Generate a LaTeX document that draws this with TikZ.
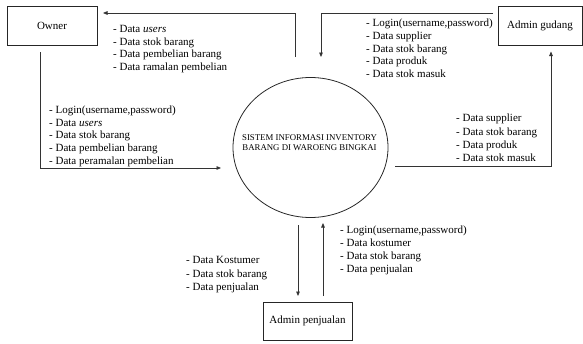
\documentclass[tikz,border=0pt]{standalone}
\usepackage{fontspec}
\setmainfont{Liberation Serif}
\usetikzlibrary{arrows.meta,shapes.geometric}

\begin{document}
\begin{tikzpicture}[x=1pt,y=-1pt,
  entity/.style={draw=black!85,line width=0.8pt,inner sep=0pt,
    font=\fontsize{11}{13}\selectfont},
  process/.style={draw=black!85,line width=0.8pt,ellipse,inner sep=0pt},
  flow/.style={draw=black!80,line width=0.8pt,
    -{Triangle[length=4.5pt,width=3.6pt]}},
  datalist/.style={anchor=north west,inner sep=0pt,align=left,
    font=\fontsize{11}{12.7}\selectfont},
  datalistwide/.style={datalist,font=\fontsize{11}{13.2}\selectfont}]

  % page frame
  \useasboundingbox (0,0) rectangle (583,343);

  % external entities
  \node[entity,minimum width=90pt,minimum height=39pt] (owner) at (52,25.5) {Owner};
  \node[entity,minimum width=84pt,minimum height=39pt] (gudang) at (540,25.5) {Admin gudang};
  \node[entity,minimum width=89pt,minimum height=38pt] (penjualan) at (307.5,321) {Admin penjualan};

  % central process
  \node[process,minimum width=155pt,minimum height=140pt] (sys) at (310.5,147.5) {};
  \node[align=center,inner sep=0pt,font=\fontsize{8.8}{10.7}\selectfont] (systext) at (309.5,142.5)
    {SISTEM INFORMASI INVENTORY\\BARANG DI WAROENG BINGKAI};

  % free ends of the data flows
  \coordinate (sysToOwnerA) at (295,57);
  \coordinate (sysToOwnerB) at (103,13);
  \coordinate (gudangToSysA) at (493,13);
  \coordinate (gudangToSysB) at (321,57);
  \coordinate (ownerToSysA) at (40,52);
  \coordinate (ownerToSysB) at (221,168);
  \coordinate (sysToGudangA) at (395,166);
  \coordinate (sysToGudangB) at (551,51.5);
  \coordinate (sysToPenjA) at (298,225);
  \coordinate (sysToPenjB) at (298,296);
  \coordinate (penjToSysA) at (323,296);
  \coordinate (penjToSysB) at (323,223);

  % data flows
  \draw[flow] (sysToOwnerA) |- (sysToOwnerB);
  \draw[flow] (gudangToSysA) -| (gudangToSysB);
  \draw[flow] (ownerToSysA) |- (ownerToSysB);
  \draw[flow] (sysToGudangA) -| (sysToGudangB);
  \draw[flow] (sysToPenjA) -- (sysToPenjB);
  \draw[flow] (penjToSysA) -- (penjToSysB);

  % flow labels
  \node[datalist] (lblOwnerOut) at (113,25)
    {- Data \textit{users}\\- Data stok barang\\- Data pembelian barang\\- Data ramalan pembelian};
  \node[datalist] (lblOwnerIn) at (49,105.5)
    {- Login(username,password)\\- Data \textit{users}\\- Data stok barang\\- Data pembelian barang\\- Data peramalan pembelian};
  \node[datalist] (lblGudangIn) at (366,19)
    {- Login(username,password)\\- Data supplier\\- Data stok barang\\- Data produk\\- Data stok masuk};
  \node[datalistwide] (lblGudangOut) at (456,114)
    {- Data supplier\\- Data stok barang\\- Data produk\\- Data stok masuk};
  \node[datalistwide] (lblPenjOut) at (186,256.5)
    {- Data Kostumer\\- Data stok barang\\- Data penjualan};
  \node[datalistwide] (lblPenjIn) at (340,225.5)
    {- Login(username,password)\\- Data kostumer\\- Data stok barang\\- Data penjualan};
\end{tikzpicture}
\end{document}
